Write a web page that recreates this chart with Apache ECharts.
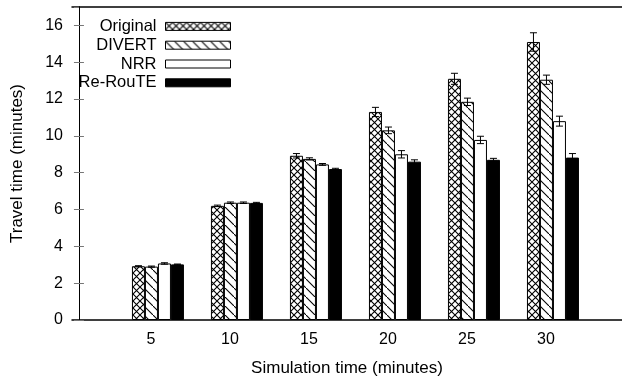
<!DOCTYPE html>
<html><head><meta charset="utf-8">
<script src="https://cdn.jsdelivr.net/npm/echarts@6/dist/echarts.min.js"></script>
<style>html,body{margin:0;padding:0;background:#fff}#c{width:622px;height:380px}</style>
</head><body><div id="c"></div>
<script>
// ---- data ----
const categories = [5, 10, 15, 20, 25, 30];
const seriesNames = ['Original', 'DIVERT', 'NRR', 'Re-RouTE'];
const originalVals = [2.92, 6.2, 8.92, 11.3, 13.1, 15.1];
const divertVals   = [2.9, 6.37, 8.75, 10.3, 11.85, 13.05];
const nrrVals      = [3.07, 6.37, 8.45, 9.0, 9.78, 10.8];
const rerouteVals  = [3.02, 6.36, 8.2, 8.6, 8.7, 8.82];
const originalErr  = [0.03, 0.04, 0.12, 0.25, 0.3, 0.5];
const divertErr    = [0.03, 0.04, 0.06, 0.18, 0.2, 0.25];
const nrrErr       = [0.04, 0.04, 0.05, 0.2, 0.2, 0.27];
const rerouteErr   = [0.02, 0.03, 0.04, 0.1, 0.08, 0.22];
const yTicksMax = 17;
const xTickLabels = [5, 10, 15, 20, 25, 30];
const xAxisTitle = 'Simulation time (minutes)';
const yAxisTitle = 'Travel time (minutes)';

// ---- styles ----
const BAR_W = 13;
const FONT = 'Liberation Sans, Arial, sans-serif';

function makePattern(kind) {
  const s = kind === 'cross' ? 7 : 9;
  const c = document.createElement('canvas');
  c.width = s; c.height = s;
  const g = c.getContext('2d');
  g.fillStyle = '#fff'; g.fillRect(0, 0, s, s);
  g.strokeStyle = '#000'; g.lineWidth = 1.1;
  g.beginPath();
  g.moveTo(-1, -1); g.lineTo(s + 1, s + 1);
  if (kind === 'cross') { g.moveTo(-1, s + 1); g.lineTo(s + 1, -1); }
  g.stroke();
  return c;
}
const fills = [
  { image: makePattern('cross'), repeat: 'repeat' },
  { image: makePattern('diag'), repeat: 'repeat' },
  '#ffffff',
  '#000000'
];
const valsList = [originalVals, divertVals, nrrVals, rerouteVals];
const errList = [originalErr, divertErr, nrrErr, rerouteErr];

const series = [];
seriesNames.forEach((name, k) => {
  series.push({
    type: 'bar', name: name,
    xAxisIndex: 0, yAxisIndex: 0,
    barWidth: BAR_W, barGap: '0%',
    itemStyle: { color: fills[k], borderColor: '#000', borderWidth: 1 },
    emphasis: { disabled: true },
    data: categories.map((c, i) => [c, valsList[k][i]])
  });
});
seriesNames.forEach((name, k) => {
  series.push({
    type: 'custom', name: name + ' err',
    xAxisIndex: 0, yAxisIndex: 0, z: 5,
    encode: { x: 0, y: 1 },
    data: categories.map((c, i) => [c, valsList[k][i], errList[k][i], k]),
    renderItem: function (params, api) {
      const x = api.value(0), v = api.value(1), e = api.value(2), idx = api.value(3);
      const top = api.coord([x, v + e]), bot = api.coord([x, v - e]);
      const cx = top[0] + (idx - 1.5) * BAR_W;
      const hw = 3.5;
      const st = { stroke: '#000', lineWidth: 1 };
      return { type: 'group', children: [
        { type: 'line', shape: { x1: cx, y1: top[1], x2: cx, y2: bot[1] }, style: st },
        { type: 'line', shape: { x1: cx - hw, y1: top[1], x2: cx + hw, y2: top[1] }, style: st },
        { type: 'line', shape: { x1: cx - hw, y1: bot[1], x2: cx + hw, y2: bot[1] }, style: st }
      ]};
    }
  });
});

const chart = echarts.init(document.getElementById('c'), null, { renderer: 'canvas' });
chart.setOption({
  animation: false,
  backgroundColor: '#fff',
  textStyle: { fontFamily: FONT },
  grid: { left: 72, right: 0, top: 7, bottom: 60, containLabel: false, outerBoundsMode: 'none' },
  legend: {
    data: seriesNames,
    orient: 'vertical', align: 'right',
    right: 391, top: 17, padding: 0,
    itemWidth: 65, itemHeight: 8, itemGap: 0,
    icon: 'rect',
    selectedMode: false,
    itemStyle: { borderColor: '#000', borderWidth: 1 },
    textStyle: { fontSize: 16.5, color: '#000', fontFamily: FONT, lineHeight: 18.8, padding: [0, 4, 0, 0] }
  },
  xAxis: [{
    type: 'value', position: 'bottom', min: -0.44, max: 34.37,
    axisLine: { show: true, lineStyle: { color: '#000', width: 1.5 } },
    axisTick: { show: false },
    splitLine: { show: false },
    axisLabel: { customValues: xTickLabels, fontSize: 16, color: '#000', margin: 12, padding: [0, 14, 0, 0], fontFamily: FONT },
    name: xAxisTitle, nameLocation: 'middle', nameGap: 40,
    nameTextStyle: { fontSize: 17, color: '#000', fontFamily: FONT }
  }, {
    type: 'value', position: 'top', min: -0.44, max: 34.37,
    axisLine: { show: true, onZero: false, lineStyle: { color: '#000', width: 1.5 } },
    axisTick: { show: false }, axisLabel: { show: false }, splitLine: { show: false }
  }],
  yAxis: [{
    type: 'value', position: 'left', min: 0, max: yTicksMax, interval: 2,
    axisLine: { show: true, lineStyle: { color: '#000', width: 1 } },
    axisTick: { show: true, inside: true, length: 5, lineStyle: { color: '#777', width: 1 } },
    splitLine: { show: false },
    axisLabel: { fontSize: 16, color: '#000', margin: 9, showMaxLabel: false, fontFamily: FONT },
    name: yAxisTitle, nameLocation: 'middle', nameGap: 46,
    nameTextStyle: { fontSize: 17, color: '#000', fontFamily: FONT }
  }, {
    type: 'value', position: 'right', min: 0, max: yTicksMax, interval: 2,
    axisLine: { show: true, lineStyle: { color: '#000', width: 1 } },
    axisTick: { show: true, inside: true, length: 5, lineStyle: { color: '#777', width: 1 } },
    splitLine: { show: false },
    axisLabel: { show: false }
  }],
  series: series
});
</script></body></html>
